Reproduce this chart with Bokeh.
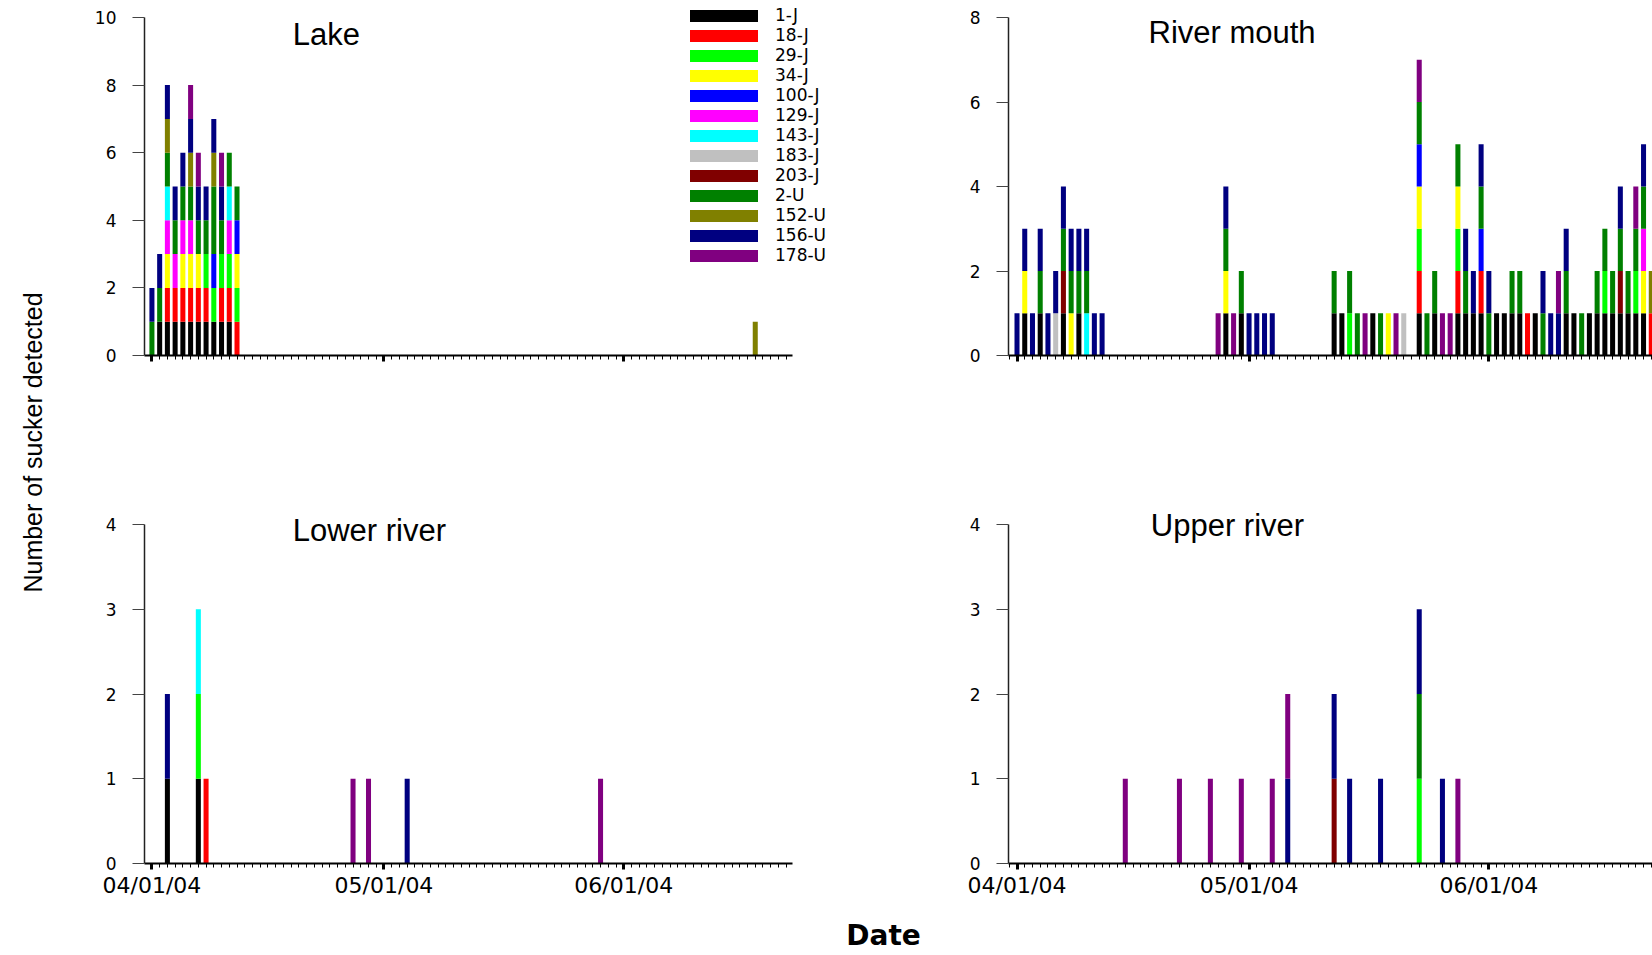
from datetime import date

from bokeh.embed import file_html
from bokeh.layouts import column, row
from bokeh.models import (ColumnDataSource, FixedTicker, Label, Legend,
                          LegendItem, Range1d)
from bokeh.plotting import figure
from bokeh.resources import INLINE

# ---------------------------------------------------------------- data
# Tagged suckers, in stacking order, and their colours
FISH = ["1-J", "18-J", "29-J", "34-J", "100-J", "129-J", "143-J", "183-J",
        "203-J", "2-U", "152-U", "156-U", "178-U"]
FISH_COLORS = ["#000000", "#ff0000", "#00ff00", "#ffff00", "#0000ff",
               "#ff00ff", "#00ffff", "#c0c0c0", "#800000", "#008000",
               "#808000", "#000080", "#800080"]

SEASON_START = date(2004, 4, 1)
MONTH_STARTS = [date(2004, 4, 1), date(2004, 5, 1), date(2004, 6, 1)]

# Days (counted from 1 April 2004) on which each fish was detected.
# A day listed twice means two detections on that day.
LAKE = {
    "1-J": [1, 2, 3, 4, 5, 6, 7, 8, 9, 10],
    "18-J": [2, 3, 4, 5, 6, 7, 9, 10, 11],
    "29-J": [7, 8, 9, 10, 11],
    "34-J": [2, 4, 5, 6, 11],
    "100-J": [8, 11],
    "129-J": [2, 3, 4, 5, 10],
    "143-J": [2, 10],
    "2-U": [0, 1, 2, 3, 4, 5, 6, 7, 8, 8, 9, 10, 11],
    "152-U": [2, 5, 8, 78],
    "156-U": [0, 1, 2, 3, 4, 5, 6, 7, 8, 9],
    "178-U": [5, 6, 9],
}

RIVER_MOUTH = {
    "1-J": [1, 3, 6, 8, 27, 29, 41, 42, 46, 52, 54, 57, 58, 59, 60, 62, 63,
            64, 65, 67, 71, 72, 74, 75, 76, 77, 78, 79, 80, 81],
    "18-J": [52, 57, 60, 66, 82],
    "29-J": [43, 52, 57, 76, 80],
    "34-J": [1, 7, 27, 48, 52, 57, 81],
    "100-J": [52, 60],
    "129-J": [81],
    "143-J": [9],
    "183-J": [5, 50],
    "203-J": [6, 78],
    "2-U": [3, 6, 7, 8, 9, 27, 29, 41, 43, 44, 47, 52, 53, 54, 57, 58, 60,
            61, 64, 65, 68, 71, 73, 75, 76, 77, 78, 79, 80, 81],
    "152-U": [82],
    "156-U": [0, 1, 2, 3, 4, 5, 6, 7, 8, 9, 10, 11, 27, 30, 31, 32, 33, 58,
              59, 60, 61, 68, 69, 70, 71, 78, 81],
    "178-U": [26, 28, 45, 49, 52, 55, 56, 70, 80],
}

LOWER_RIVER = {
    "1-J": [2, 6],
    "18-J": [7],
    "29-J": [6],
    "143-J": [6],
    "156-U": [2, 33],
    "178-U": [26, 28, 58],
}

UPPER_RIVER = {
    "29-J": [52],
    "203-J": [41],
    "2-U": [52],
    "156-U": [35, 41, 43, 47, 52, 55],
    "178-U": [14, 21, 25, 29, 33, 35, 57],
}

LAKE_Y_TICKS = [0, 2, 4, 6, 8, 10]
MOUTH_Y_TICKS = [0, 2, 4, 6, 8]
RIVER_Y_TICKS = [0, 1, 2, 3, 4]

# ---------------------------------------------------------------- styling
TICK_FONT = "DejaVu Sans"
DAY_PX = 7.735          # horizontal pixels per day


def month_ticks():
    days = [(m - SEASON_START).days for m in MONTH_STARTS]
    labels = {d: m.strftime("%m/%d/%y") for d, m in zip(days, MONTH_STARTS)}
    return days, labels


def panel(detections, y_ticks, title, title_pos, x_start, axis_w, axis_h,
          border_l, border_r, border_t, border_b, date_labels,
          extra_w=0, extra_h=0):
    """One stacked-bar panel.  The frame is a little larger than the drawn
    axes (extra_w to the right, extra_h above) so that the legend and the
    panel title are not clipped."""
    days = sorted({d for ds in detections.values() for d in ds})
    data = {"day": days}
    for f in FISH:
        ds = detections.get(f, [])
        data[f] = [ds.count(d) for d in days]
    src = ColumnDataSource(data)

    y_max = y_ticks[-1]
    unit_px = axis_h / y_max
    x_axis_end = x_start + axis_w / DAY_PX
    x_end = x_start + (axis_w + extra_w) / DAY_PX
    y_end = y_max + extra_h / unit_px

    p = figure(width=border_l + axis_w + extra_w + border_r,
               height=border_t + axis_h + extra_h + border_b,
               x_range=Range1d(x_start, x_end),
               y_range=Range1d(0, y_end),
               min_border_left=border_l, min_border_right=border_r,
               min_border_top=border_t, min_border_bottom=border_b,
               output_backend="svg", toolbar_location=None)
    p.xgrid.visible = False
    p.ygrid.visible = False
    p.outline_line_color = None
    p.background_fill_color = "white"

    renderers = p.vbar_stack(FISH, x="day", width=0.65, source=src,
                             fill_color=FISH_COLORS, line_color=None)

    tick_days, tick_labels = month_ticks()
    xa = p.xaxis[0]
    xa.bounds = (x_start, x_axis_end)
    xa.ticker = FixedTicker(
        ticks=tick_days,
        minor_ticks=list(range(int(x_start), int(x_axis_end) + 1)))
    xa.major_label_overrides = (tick_labels if date_labels
                                else {d: "" for d in tick_days})
    xa.axis_line_color = "black"
    xa.axis_line_width = 2
    xa.major_tick_line_color = "black"
    xa.major_tick_line_width = 3
    xa.major_tick_out = 6
    xa.major_tick_in = 0
    xa.minor_tick_line_color = "black"
    xa.minor_tick_line_width = 1
    xa.minor_tick_out = 4
    xa.minor_tick_in = 0
    xa.major_label_standoff = 3
    xa.major_label_text_font = TICK_FONT
    xa.major_label_text_font_size = "22px"
    xa.major_label_text_color = "black"

    ya = p.yaxis[0]
    ya.bounds = (0, y_max)
    ya.ticker = FixedTicker(ticks=y_ticks, minor_ticks=[])
    ya.axis_line_color = "#222222"
    ya.axis_line_width = 1.5
    ya.major_tick_line_color = "#444444"
    ya.major_tick_out = 12
    ya.major_tick_in = 0
    ya.minor_tick_line_color = None
    ya.major_label_standoff = 16
    ya.major_label_text_font = TICK_FONT
    ya.major_label_text_font_size = "17px"
    ya.major_label_text_color = "black"

    p.add_layout(Label(x=title_pos[0], y=title_pos[1], text=title,
                       text_font="Liberation Sans", text_font_size="31px",
                       text_color="black", text_align="left",
                       text_baseline="alphabetic"))
    return p, renderers


# axes: left column x 144..792, right column x 1008..1652
LEFT_X0 = -0.96
RIGHT_X0 = -1.1

# top row: axes y 17..355, bottom row: axes y 524..863
lake, lake_r = panel(LAKE, LAKE_Y_TICKS, "Lake", (18.2, 9.50), LEFT_X0,
                     648, 338, 84, 10, 5, 80, False, extra_w=60, extra_h=12)
lower, _ = panel(LOWER_RIVER, RIVER_Y_TICKS, "Lower river", (18.2, 3.93),
                 LEFT_X0, 648, 339, 84, 10, 77, 45, True,
                 extra_w=60, extra_h=12)
mouth, _ = panel(RIVER_MOUTH, MOUTH_Y_TICKS, "River mouth", (17.0, 7.65),
                 RIGHT_X0, 644, 338, 146, 0, 5, 80, False, extra_h=12)
upper, _ = panel(UPPER_RIVER, RIVER_Y_TICKS, "Upper river", (17.3, 3.99),
                 RIGHT_X0, 644, 339, 146, 0, 77, 45, True, extra_h=12)

legend = Legend(
    items=[LegendItem(label=f, renderers=[r]) for f, r in zip(FISH, lake_r)],
    location=(537, 90), orientation="vertical",
    glyph_width=85, glyph_height=15, label_height=15, spacing=0,
    padding=0, margin=0, label_standoff=9,
    label_text_font=TICK_FONT, label_text_font_size="17px",
    label_text_color="black",
    border_line_color=None, background_fill_alpha=0)
lake.add_layout(legend)

# shared axis titles
ylab = figure(width=60, height=908, x_range=Range1d(0, 60),
              y_range=Range1d(0, 908), min_border=0,
              x_axis_location=None, y_axis_location=None,
              output_backend="svg", toolbar_location=None)
ylab.grid.visible = False
ylab.outline_line_color = None
ylab.add_layout(Label(x=32, y=908 - 442, text="Number of sucker detected",
                      angle=90, angle_units="deg", text_align="center",
                      text_baseline="middle", text_color="black",
                      text_font="Liberation Sans", text_font_size="25px"))

xlab = figure(width=1652, height=45, x_range=Range1d(0, 1652),
              y_range=Range1d(0, 45), min_border=0,
              x_axis_location=None, y_axis_location=None,
              output_backend="svg", toolbar_location=None)
xlab.grid.visible = False
xlab.outline_line_color = None
xlab.add_layout(Label(x=883, y=18, text="Date", text_align="center",
                      text_baseline="middle", text_color="black",
                      text_font=TICK_FONT, text_font_style="bold",
                      text_font_size="28px"))

page = column(row(ylab, column(lake, lower), column(mouth, upper)), xlab)

open("out.html", "w").write(file_html(page, INLINE))
